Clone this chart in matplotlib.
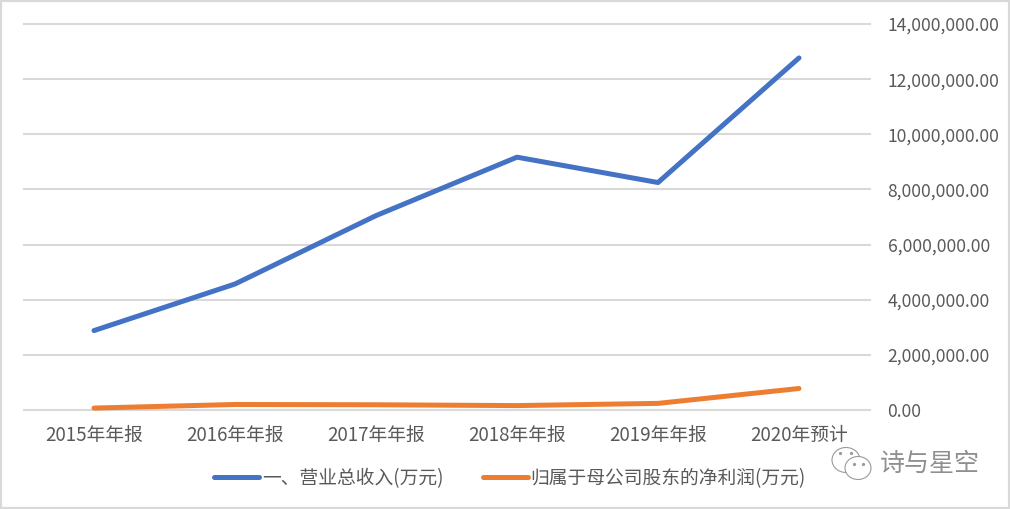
import matplotlib
matplotlib.use("Agg")
import matplotlib.pyplot as plt
import matplotlib.patches as patches
from matplotlib.ticker import FuncFormatter

plt.rcParams['font.family'] = ['Noto Sans CJK SC', 'DejaVu Sans']

categories = ["2015年年报", "2016年年报", "2017年年报", "2018年年报", "2019年年报", "2020年预计"]
revenue = [2880000, 4570000, 7050000, 9170000, 8250000, 12770000]
net_profit = [70000, 200000, 190000, 160000, 240000, 780000]
revenue_label = "一、营业总收入(万元)"
profit_label = "归属于母公司股东的净利润(万元)"
watermark = "诗与星空"

W, H = 1010, 509
TEXT = "#595959"

fig = plt.figure(figsize=(W / 100, H / 100), dpi=100, facecolor="white")
ax = fig.add_axes([23.5 / W, 1 - 410 / H, 846 / W, 386 / H])
ax.set_xlim(-0.5, 5.5)
ax.set_ylim(0, 14000000)
ax.set_yticks(range(0, 14000001, 2000000))
ax.yaxis.set_major_formatter(FuncFormatter(lambda v, _: f"{v:,.2f}"))
ax.yaxis.tick_right()
ax.set_xticks(range(len(categories)))
ax.set_xticklabels(categories)
ax.tick_params(length=0, labelcolor=TEXT)
ax.tick_params(axis="y", labelsize=12.6, pad=13)
ax.tick_params(axis="x", labelsize=13.5, pad=10.7)
ax.grid(axis="y", color="#d9d9d9", linewidth=1.5, clip_on=False)
ax.set_axisbelow(True)
for s in ax.spines.values():
    s.set_visible(False)

l1, = ax.plot(categories, revenue, color="#4472c4", linewidth=3.6,
              solid_capstyle="round", label=revenue_label, clip_on=False)
l2, = ax.plot(categories, net_profit, color="#ed7d31", linewidth=3.6,
              solid_capstyle="round", label=profit_label, clip_on=False)

fig.legend(handles=[l1, l2], loc="center", bbox_to_anchor=(510 / W, 1 - 478.5 / H),
           ncol=2, frameon=False, fontsize=13.5, labelcolor=TEXT,
           handlelength=2.4, columnspacing=2.08, handletextpad=0.15)

# outer frame of the pasted chart
fig.add_artist(patches.Rectangle((0, 0), 1, 1, transform=fig.transFigure, fill=False,
                                 edgecolor="#d9d9d9", linewidth=3))

# wechat style watermark
over = fig.add_axes([0, 0, 1, 1], facecolor="none")
over.set_xlim(0, W)
over.set_ylim(H, 0)
over.axis("off")
over.add_patch(patches.Ellipse((846, 460), 28, 25, fc="white", ec="#9a9a9a", lw=0.8))
over.add_patch(patches.Ellipse((858, 468), 26, 23, fc="white", ec="#9a9a9a", lw=0.8))
over.plot([840, 851, 854, 863], [453, 453, 464, 464], ls="none", marker="o", ms=1.3, color="#9a9a9a")
over.text(880, 463.5, watermark, fontsize=18, color="#8f8f8f", ha="left", va="center",
          fontweight="light")

fig.savefig("out.png", dpi=100)
